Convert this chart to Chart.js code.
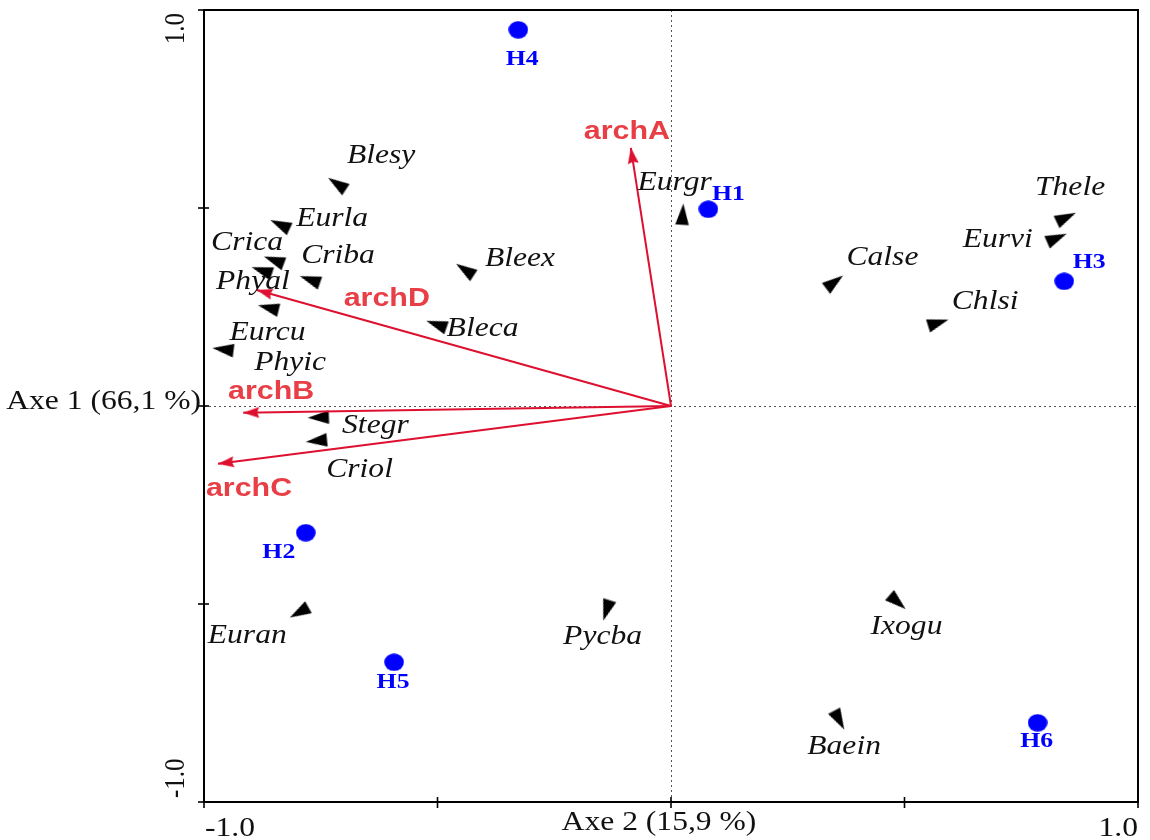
<!DOCTYPE html>
<html><head><meta charset="utf-8">
<script src="https://cdn.jsdelivr.net/npm/chart.js@4.4.1/dist/chart.umd.min.js"></script>
<style>html,body{margin:0;padding:0;background:#fff}#wrap{width:1150px;height:840px;position:relative}</style>
</head><body><div id="wrap"><canvas id="c"></canvas></div>
<script>
// ---- data ----
const speciesNames = ['Blesy','Eurla','Crica','Phyal','Criba','Eurcu','Phyic','Bleex','Bleca','Stegr','Criol','Euran','Pycba','Eurgr','Calse','Thele','Eurvi','Chlsi','Ixogu','Baein'];
const speciesX = [-0.715,-0.837,-0.850,-0.876,-0.773,-0.862,-0.959,-0.441,-0.502,-0.755,-0.759,-0.796,-0.138,0.025,0.350,0.846,0.826,0.572,0.485,0.360];
const speciesY = [0.561,0.458,0.368,0.342,0.319,0.248,0.143,0.344,0.206,-0.029,-0.088,-0.521,-0.516,0.484,0.313,0.476,0.424,0.210,-0.495,-0.793];
const speciesLabelDX = [44,52,-27,-9,28,-1,67,55,46,57,43,-52,-4,-8,48,4,-59,47,9,5];
const speciesLabelDY = [-28,-6,-17,11,-24,25,14,-11,4,8,29,24,27,-31,-24,-30,2,-21,25,27];

const siteNames = ['H1','H2','H3','H4','H5','H6'];
const siteX = [0.080,-0.782,0.842,-0.327,-0.593,0.785];
const siteY = [0.497,-0.320,0.315,0.950,-0.647,-0.800];
const siteLabelDX = [20,-27,25,4,-1,-1];
const siteLabelDY = [-15,20,-19,30,20,19];

const envNames = ['archA','archB','archC','archD'];
const envX = [-0.086,-0.916,-0.970,-0.887];
const envY = [0.652,-0.017,-0.146,0.293];
const envLabelDX = [-4,28,31,130];
const envLabelDY = [-16,-21,25,9];

const tickValues = [-1,-0.5,0,0.5,1];
const xTickLabels = ['-1.0','1.0'];
const yTickLabels = ['-1.0','1.0'];
const xAxisTitle = 'Axe 2 (15,9 %)';
const yAxisTitle = 'Axe 1 (66,1 %)';

// ---- styles ----
const SX = 1.17;
const RED_LINE = 'rgb(222,16,48)';
const RED_TEXT = 'rgb(232,62,70)';
const BLUE = '#0000ff';

function makeTri(){
  const c=document.createElement('canvas'); c.width=15; c.height=22;
  const g=c.getContext('2d'); g.fillStyle='#000';
  g.beginPath(); g.moveTo(7.5,0.3); g.lineTo(14.3,21.5); g.lineTo(0.7,21.5); g.closePath(); g.fill();
  return c;
}
function makeHead(){
  const c=document.createElement('canvas'); c.width=14; c.height=34;
  const g=c.getContext('2d'); g.fillStyle=RED_LINE;
  g.beginPath(); g.moveTo(7,17); g.lineTo(12.5,33); g.lineTo(7,31); g.lineTo(1.5,33); g.closePath(); g.fill();
  return c;
}
function makeDot(){
  const c=document.createElement('canvas'); c.width=20; c.height=18;
  const g=c.getContext('2d'); g.fillStyle=BLUE;
  g.beginPath(); g.ellipse(10,9,9.8,8.8,0,0,Math.PI*2); g.fill();
  return c;
}
const triImg = makeTri(), headImg = makeHead(), dotImg = makeDot();

function dirRotation(c){
  const s=c.chart.scales; const p=c.raw;
  if(!p) return 0;
  const dx=s.x.getPixelForValue(p.x)-s.x.getPixelForValue(0);
  const dy=s.y.getPixelForValue(p.y)-s.y.getPixelForValue(0);
  return Math.atan2(dx,-dy)*180/Math.PI;
}

function txt(ctx,text,x,y,font,color,align,base,sx){
  ctx.save(); ctx.font=font; ctx.fillStyle=color; ctx.textAlign=align; ctx.textBaseline=base;
  ctx.translate(x,y); ctx.scale(sx,1); ctx.fillText(text,0,0); ctx.restore();
}

const frame = {
  id:'frame',
  beforeDatasetsDraw(chart){
    const {ctx, chartArea:a, scales:{x,y}} = chart;
    ctx.save();
    ctx.strokeStyle='#555'; ctx.lineWidth=1; ctx.setLineDash([2,3]);
    const x0=Math.round(x.getPixelForValue(0))+0.5, y0=Math.round(y.getPixelForValue(0))+0.5;
    ctx.beginPath(); ctx.moveTo(x0,a.top); ctx.lineTo(x0,a.bottom); ctx.stroke();
    ctx.beginPath(); ctx.moveTo(a.left,y0); ctx.lineTo(a.right,y0); ctx.stroke();
    ctx.setLineDash([]);
    ctx.strokeStyle='#000'; ctx.lineWidth=2;
    ctx.strokeRect(a.left,a.top,a.right-a.left,a.bottom-a.top);
    ctx.lineWidth=1.6;
    tickValues.forEach(v=>{
      const px=x.getPixelForValue(v);
      ctx.beginPath(); ctx.moveTo(px,a.bottom-5); ctx.lineTo(px,a.bottom+6); ctx.stroke();
      const py=y.getPixelForValue(v);
      ctx.beginPath(); ctx.moveTo(a.left-6,py); ctx.lineTo(a.left+5,py); ctx.stroke();
    });
    ctx.restore();
  },
  afterDatasetsDraw(chart){
    const {ctx, chartArea:a, scales:{x,y}} = chart;
    const serif='"Liberation Serif","Times New Roman",serif';
    speciesNames.forEach((n,i)=>{
      txt(ctx,n,x.getPixelForValue(speciesX[i])+speciesLabelDX[i],y.getPixelForValue(speciesY[i])+speciesLabelDY[i],
        'italic 27px '+serif,'#111','center','middle',SX);
    });
    siteNames.forEach((n,i)=>{
      txt(ctx,n,x.getPixelForValue(siteX[i])+siteLabelDX[i],y.getPixelForValue(siteY[i])+siteLabelDY[i],
        'bold 22px '+serif,BLUE,'center','middle',SX);
    });
    envNames.forEach((n,i)=>{
      txt(ctx,n,x.getPixelForValue(envX[i])+envLabelDX[i],y.getPixelForValue(envY[i])+envLabelDY[i],
        'bold 26px "Liberation Sans",Arial,sans-serif',RED_TEXT,'center','middle',SX);
    });
    txt(ctx,xTickLabels[0],x.getPixelForValue(-1)+1,a.bottom+27,'27px '+serif,'#111','left','middle',SX);
    txt(ctx,xTickLabels[1],x.getPixelForValue(1),a.bottom+27,'27px '+serif,'#111','right','middle',SX);
    txt(ctx,xAxisTitle,659,a.bottom+21,'27px '+serif,'#111','center','middle',SX);
    txt(ctx,yAxisTitle,201,402,'27px '+serif,'#111','right','middle',SX);
    [[yTickLabels[1],y.getPixelForValue(1)+3,'right'],[yTickLabels[0],y.getPixelForValue(-1)-4,'left']].forEach(([t,py,al])=>{
      ctx.save(); ctx.translate(176,py); ctx.rotate(-Math.PI/2); ctx.scale(1,SX);
      ctx.font='25px '+serif; ctx.fillStyle='#111'; ctx.textAlign=al; ctx.textBaseline='middle';
      ctx.fillText(t,0,0); ctx.restore();
    });
  }
};

const speciesData = speciesX.map((v,i)=>({x:v,y:speciesY[i]}));
const siteData = siteX.map((v,i)=>({x:v,y:siteY[i]}));
const envDatasets = envX.map((v,i)=>({
  data:[{x:0,y:0},{x:v,y:envY[i]}],
  showLine:true, borderColor:RED_LINE, borderWidth:2,
  pointRadius:[0,6], pointStyle:[false,headImg], pointRotation:dirRotation, order:1
}));

new Chart(document.getElementById('c'),{
  type:'scatter',
  data:{datasets:[
    {data:speciesData, pointStyle:triImg, pointRadius:8, pointRotation:dirRotation, order:3},
    {data:siteData, pointStyle:dotImg, pointRadius:9, order:2},
    ...envDatasets
  ]},
  options:{
    responsive:true, maintainAspectRatio:false, animation:false,
    layout:{padding:{left:204,right:12,top:8,bottom:38}},
    scales:{
      x:{type:'linear',min:-1,max:1,display:false},
      y:{type:'linear',min:-1,max:1,display:false}
    },
    plugins:{legend:{display:false},tooltip:{enabled:false}},
    events:[]
  },
  plugins:[frame]
});
</script></body></html>
